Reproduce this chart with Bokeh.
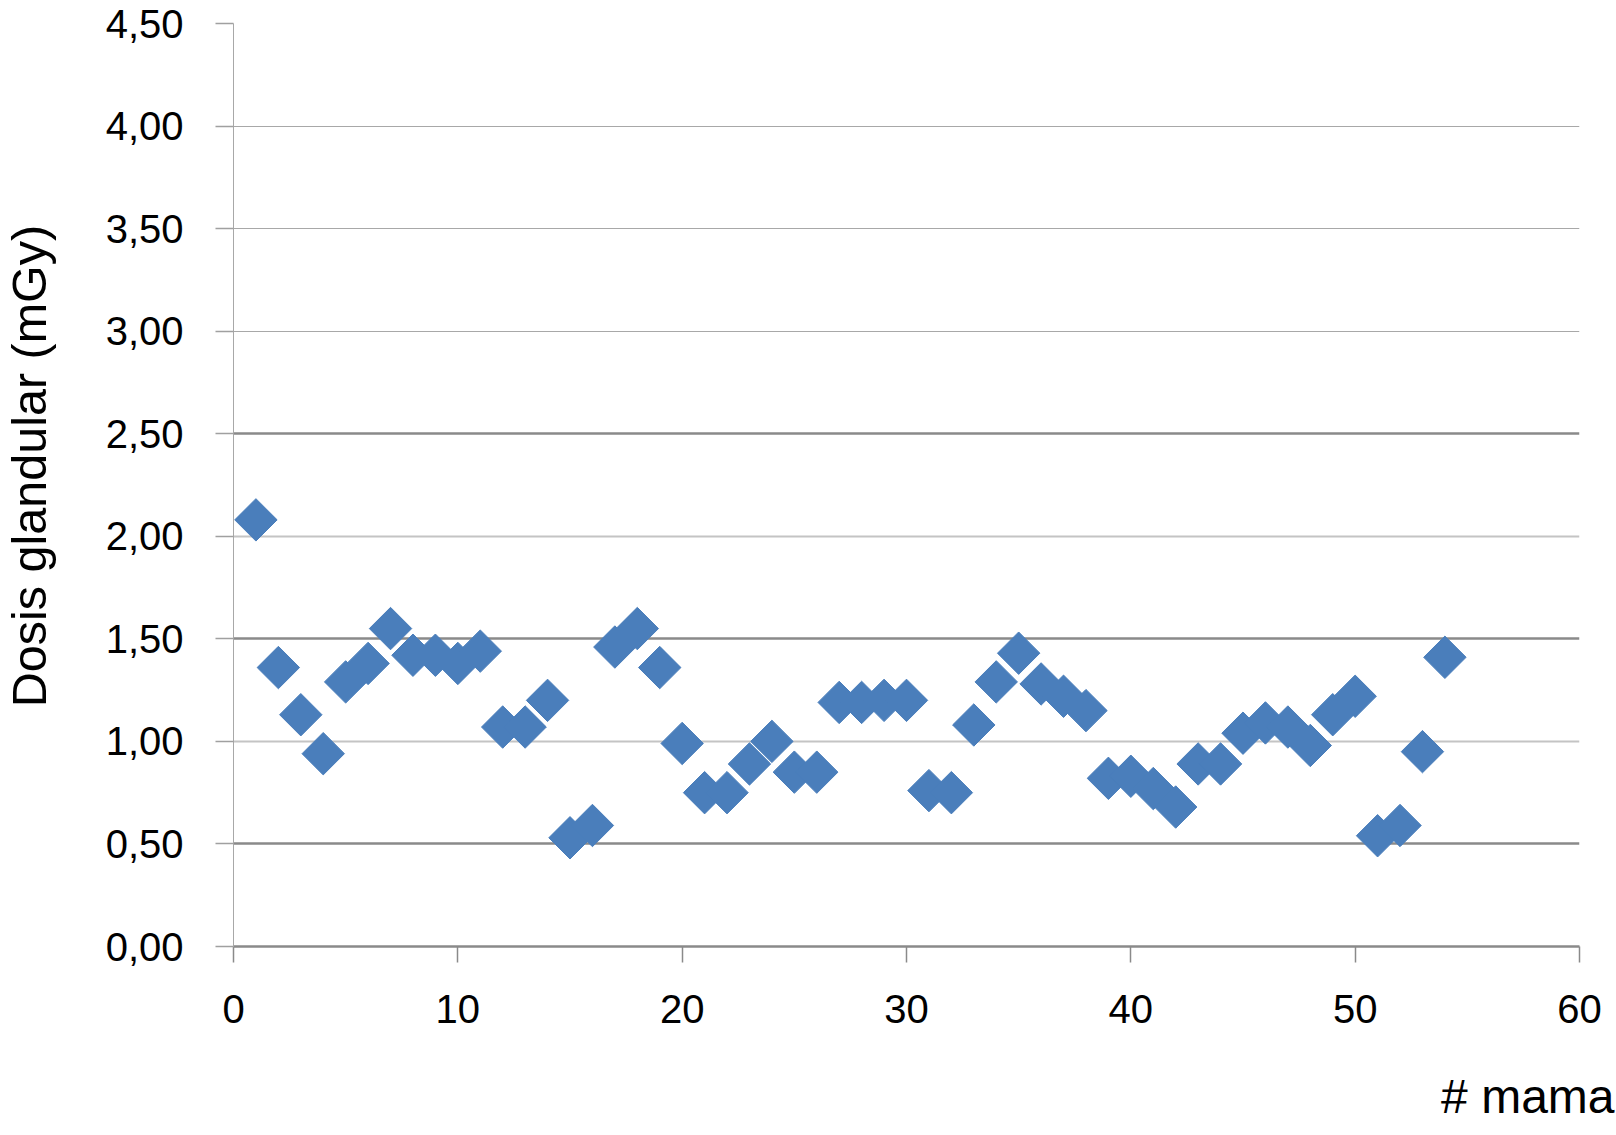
import math
from bokeh.plotting import figure
from bokeh.models import Range1d, FixedTicker, Label, Grid, Title
from bokeh.layouts import row, column
from bokeh.embed import file_html
from bokeh.resources import INLINE

# ---- data ----
mama = list(range(1, 55))
dosis = [2.08, 1.36, 1.13, 0.94, 1.29, 1.38, 1.55, 1.42, 1.42, 1.38,
         1.44, 1.07, 1.07, 1.20, 0.53, 0.59, 1.46, 1.55, 1.36, 0.99,
         0.75, 0.75, 0.89, 1.00, 0.85, 0.85, 1.19, 1.19, 1.20, 1.20,
         0.76, 0.75, 1.08, 1.29, 1.43, 1.28, 1.22, 1.15, 0.82, 0.83,
         0.77, 0.68, 0.89, 0.89, 1.04, 1.09, 1.07, 0.98, 1.13, 1.22,
         0.54, 0.59, 0.95, 1.41]
x_ticks = [0, 10, 20, 30, 40, 50, 60]
y_ticks = [0.0, 0.5, 1.0, 1.5, 2.0, 2.5, 3.0, 3.5, 4.0, 4.5]
y_tick_labels = ["0,00", "0,50", "1,00", "1,50", "2,00", "2,50",
                 "3,00", "3,50", "4,00", "4,50"]
x_title = "# mama"
y_title = "Dosis glandular (mGy)"

# gridline groups (styling only)
grid_dark = [0.5, 1.5, 2.5]
grid_light = [1.0, 2.0]
grid_mid = [3.0, 3.5, 4.0, 4.5]

FONT = "Liberation Sans"
TOTAL_W, TOTAL_H = 1616, 1135
LEFT_W = 60
BOTTOM_H = 90


def blank(width, height):
    f = figure(width=width, height=height, output_backend="svg",
               toolbar_location=None, x_range=Range1d(0, 1), y_range=Range1d(0, 1),
               x_axis_location=None, y_axis_location=None,
               min_border_left=0, min_border_right=0, min_border_top=0,
               min_border_bottom=0)
    f.outline_line_color = None
    f.grid.visible = False
    f.background_fill_color = "white"
    f.border_fill_color = "white"
    return f


# ---- main plot ----
main_w = TOTAL_W - LEFT_W
main_h = TOTAL_H - BOTTOM_H
p = figure(width=main_w, height=main_h, output_backend="svg", toolbar_location=None,
           x_range=Range1d(0, 60), y_range=Range1d(0, 4.5),
           min_border_left=233 - LEFT_W, min_border_right=37,
           min_border_top=23, min_border_bottom=main_h - 946)
p.outline_line_color = None
p.background_fill_color = "white"
p.border_fill_color = "white"

p.xgrid.visible = False
p.ygrid.visible = False
for ticks, color, width in [(grid_mid, "#a8a8a8", 1.2),
                            (grid_light, "#c4c4c4", 2.0),
                            (grid_dark, "#8a8a8a", 2.5)]:
    p.add_layout(Grid(dimension=1, ticker=FixedTicker(ticks=ticks),
                      grid_line_color=color, grid_line_width=width))

p.scatter(mama, dosis, marker="square", angle=math.pi / 4, size=30,
          fill_color="#4a7ebb", line_color="#4a7ebb", line_width=1)

# y axis
ya = p.yaxis[0]
ya.ticker = FixedTicker(ticks=y_ticks)
ya.major_label_overrides = dict(zip(y_ticks, y_tick_labels))
ya.major_tick_out = 18
ya.major_tick_in = 0
ya.minor_tick_out = 0
ya.minor_tick_in = 0
ya.axis_line_color = "#a8a8a8"
ya.major_tick_line_color = "#a0a0a0"
ya.major_tick_line_width = 1.5
ya.major_label_standoff = 32
ya.major_label_text_font = FONT
ya.major_label_text_font_size = "40px"
ya.major_label_text_color = "black"

# x axis
xa = p.xaxis[0]
xa.ticker = FixedTicker(ticks=x_ticks)
xa.major_tick_out = 16
xa.major_tick_in = 0
xa.minor_tick_out = 0
xa.minor_tick_in = 0
xa.axis_line_color = "#8a8a8a"
xa.axis_line_width = 2.5
xa.major_tick_line_color = "#8a8a8a"
xa.major_tick_line_width = 1.5
xa.major_label_standoff = 32
xa.major_label_text_font = FONT
xa.major_label_text_font_size = "40px"
xa.major_label_text_color = "black"

# ---- y title panel ----
pl = blank(LEFT_W, TOTAL_H)
pl.add_layout(Label(x=28, y=TOTAL_H - 465.5, x_units="screen", y_units="screen",
                    text=y_title, angle=math.pi / 2, text_align="center",
                    text_baseline="middle", text_font=FONT,
                    text_font_size="48.5px", text_color="black"))

# ---- x title panel ----
pb = blank(main_w, BOTTOM_H)
pb.add_layout(Title(text=x_title, align="right", vertical_align="top",
                    offset=-35, standoff=22, text_font=FONT,
                    text_font_size="48px", text_font_style="normal",
                    text_color="black"), "below")

layout = row(pl, column(p, pb, spacing=0), spacing=0)

open("out.html", "w").write(file_html(layout, INLINE))
